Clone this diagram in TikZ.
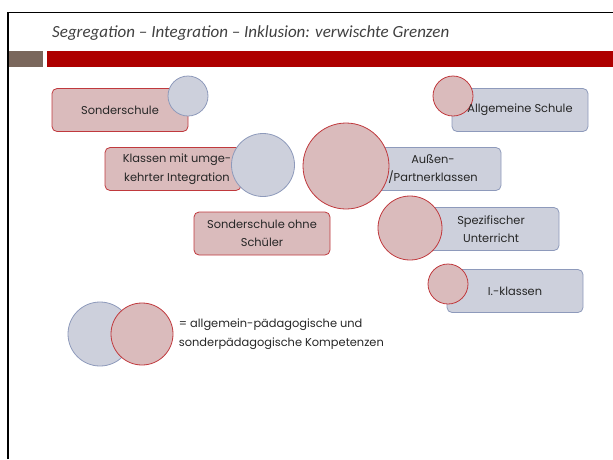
\documentclass[tikz,border=0pt]{standalone}
\usepackage{fontspec}
\setmainfont{Poppins}
\newfontfamily\titlefont{Carlito}
\usetikzlibrary{positioning}

\definecolor{rfill}{HTML}{DABBBC}
\definecolor{rline}{HTML}{C0393D}
\definecolor{gfill}{HTML}{CDD0DC}
\definecolor{gline}{HTML}{8E9ABB}
\definecolor{barred}{HTML}{AE0000}
\definecolor{bargray}{HTML}{7A675C}

\tikzstyle{rb} = [rectangle, draw=rline, fill=rfill, minimum width=136pt, minimum height=43pt, rounded corners=5pt, line width=0.8pt]
\tikzstyle{gb} = [rectangle, draw=gline, fill=gfill, minimum width=136pt, minimum height=43pt, rounded corners=5pt, line width=0.8pt]
\tikzstyle{rc} = [circle, draw=rline, fill=rfill, inner sep=0pt, line width=0.8pt]
\tikzstyle{gc} = [circle, draw=gline, fill=gfill, inner sep=0pt, line width=0.8pt]
\tikzstyle{t} = [align=center, text=black!85, font=\fontsize{11.4}{18.5}\selectfont]

\begin{document}
\begin{tikzpicture}[x=1pt, y=-1pt]
	\useasboundingbox (0,0) rectangle (613,459);
	% frame and title bar
	\draw [line width=1.6pt] (8,459) -- (8,12.5) -- (613,12.5);
	\fill [bargray] (9,51) rectangle (43,66.5);
	\fill [barred] (47,51) rectangle (613,66.5);
	\node [anchor=base west, inner sep=0pt, text=black!75, font=\titlefont\itshape\fontsize{17}{18}\selectfont] (title) at (52,37) {Segregation – Integration – Inklusion: verwischte Grenzen};

	% boxes
	\node [rb] (sonder) at (120,110) {};
	\node [rb] (klassen) at (173,169) {};
	\node [gb] (allg) at (520,110) {};
	\node [gb] (aussen) at (433,169) {};
	\node [rb] (ohne) at (262,233.5) {};
	\node [gb] (spez) at (491,229) {};
	\node [gb] (ik) at (515,291) {};

	% circles
	\node [gc, minimum size=40pt] (sonderc) at (188,96) {};
	\node [gc, minimum size=63pt] (klassenc) at (263,165) {};
	\node [rc, minimum size=40pt] (allgc) at (453,96) {};
	\node [rc, minimum size=86pt] (aussenc) at (346,166) {};
	\node [rc, minimum size=64pt] (spezc) at (410,228) {};
	\node [rc, minimum size=40pt] (ikc) at (448,284) {};

	% texts
	\node [t] at (sonder) {Sonderschule};
	\node [t] at ([xshift=4pt]klassen.center) {Klassen mit umge-\\kehrter Integration};
	\node [t] at (allg) {Allgemeine Schule};
	\node [t] at (aussen) {Außen-\\/Partnerklassen};
	\node [t] at (ohne) {Sonderschule ohne\\Schüler};
	\node [t] at (spez) {Spezifischer\\Unterricht};
	\node [t] at (ik) {I.-klassen};

	% legend
	\node [gc, minimum size=64pt] (leggray) at (100,334) {};
	\node [rc, minimum size=62pt] (legred) at (142,334) {};
	\node [t, align=left, anchor=west, right=2pt of legred] (legtext) {= allgemein-pädagogische und\\sonderpädagogische Kompetenzen};
\end{tikzpicture}
\end{document}
